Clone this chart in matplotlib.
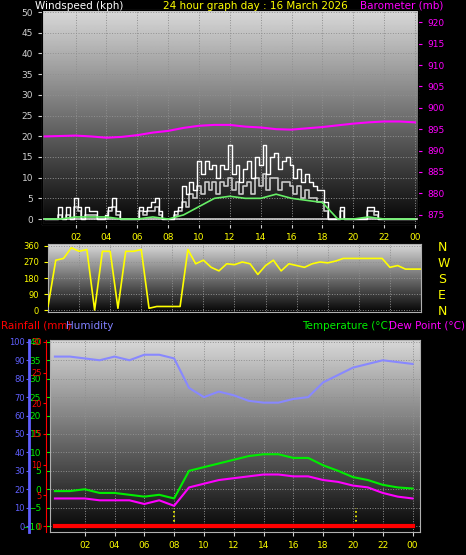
import numpy as np
from matplotlib import pyplot as plt

# ---- data ----
quarter_hours = np.arange(97) / 4
wind_gust = [0, 0, 0, 0, 3, 0, 3, 0, 5, 3, 0, 3, 2, 2, 0, 0, 1, 3, 5, 2, 0, 0, 0, 0,
             0, 3, 2, 3, 4, 5, 2, 0, 0, 0, 2, 3, 8, 6, 9, 7, 14, 11, 14, 12, 13, 10, 13, 12,
             18, 11, 13, 9, 12, 14, 10, 15, 13, 18, 11, 15, 16, 12, 14, 15, 13, 10, 12, 9,
             11, 9, 8, 7, 7, 4, 0, 0, 0, 3, 0, 0, 0, 0, 0, 0, 3, 3, 2, 0, 0, 0, 0, 0,
             0, 0, 0, 0, 0]
wind_avg = [0, 0, 0, 0, 1, 0, 1, 0, 3, 2, 0, 1, 1, 1, 0, 0, 0, 2, 3, 1, 0, 0, 0, 0,
            0, 2, 1, 2, 2, 3, 1, 0, 0, 0, 1, 2, 4, 3, 6, 5, 8, 6, 9, 7, 9, 6, 9, 8,
            10, 7, 9, 6, 8, 9, 6, 10, 8, 11, 7, 10, 10, 7, 9, 9, 8, 6, 8, 5,
            7, 5, 5, 4, 4, 2, 0, 0, 0, 2, 0, 0, 0, 0, 0, 0, 2, 2, 1, 0, 0, 0, 0, 0,
            0, 0, 0, 0, 0]
hours = np.arange(25)
wind_mean = [0, 0, 0.5, 0.5, 0.5, 0, 0, 0.5, 0, 1, 3, 5, 5.5, 5, 5, 6, 5, 4.5, 4, 0, 0, 0.5, 0, 0, 0]
barometer = [893.3, 893.4, 893.5, 893.3, 893.0, 893.2, 893.6, 894.2, 894.6, 895.3, 895.8, 896.0,
             896.0, 895.6, 895.4, 895.0, 894.9, 895.2, 895.5, 895.9, 896.3, 896.6, 896.8, 896.8, 896.6]

half_hours = np.arange(49) / 2
wind_dir = [20, 280, 290, 350, 330, 340, 0, 330, 330, 10, 330, 330, 340, 10, 20, 20,
            20, 20, 340, 260, 280, 240, 220, 260, 255, 270, 260, 200, 250, 280, 220, 260,
            250, 240, 260, 270, 265, 275, 290, 290, 290, 290, 290, 290, 240, 250, 230, 230, 230]

temperature = [-0.5, -0.5, 0, -1, -1, -1.5, -2, -1.5, -2.5, 5, 6, 7, 8, 9, 9.5, 9.5,
               8.5, 8.5, 6.5, 5, 3.3, 2.5, 1.2, 0.5, 0.2]
dew_point = [-2.5, -2.5, -2.5, -3, -3, -3, -4, -3, -4.5, 0.5, 1.5, 2.5, 3, 3.5, 4, 4,
             3.5, 3.5, 2.5, 2, 1, 0.5, -1, -2, -2.5]
humidity = [92, 92, 91, 90, 92, 90, 93, 93, 91, 75, 70, 73, 71, 68, 67, 67,
            69, 70, 78, 82, 86, 88, 90, 89, 88]
rainfall = [0] * 25
sun_times = [8.0, 20.2]

xticks = list(range(2, 25, 2))
xlabels = ["%02d" % (h % 24) for h in xticks]

W, H = 466, 555
fig = plt.figure(figsize=(W / 100, H / 100), dpi=100, facecolor="black")
grad = np.linspace(0.85, 0.02, 256).reshape(-1, 1)


def panel(x0, y0, x1, y1):
    ax = fig.add_axes([x0 / W, 1 - y1 / H, (x1 - x0) / W, (y1 - y0) / H])
    ax.imshow(grad, cmap="gray", vmin=0, vmax=1, aspect="auto", extent=[0, 1, 0, 1],
              transform=ax.transAxes, zorder=0)
    for s in ax.spines.values():
        s.set_color("#b0b0b0")
    ax.grid(True, color="#909090", linestyle=":", linewidth=0.7)
    ax.tick_params(labelsize=6.5, length=3, colors="#d0d0d0")
    return ax


# ---- wind / barometer ----
ax1 = panel(42, 10, 418, 224)
ax1.plot(quarter_hours, wind_avg, color="#c8c8c8", lw=1.2, drawstyle="steps-mid", zorder=2)
ax1.plot(quarter_hours, wind_gust, color="white", lw=1, drawstyle="steps-mid", zorder=3)
ax1.plot(hours, wind_mean, color="#66ee66", lw=1.2, zorder=4)
ax1.axhline(0, color="#d0d0d0", lw=1.2, zorder=2)
ax1.set_xlim(-0.18, 24.2)
ax1.set_ylim(-1.2, 50.5)
ax1.set_yticks(range(0, 51, 5))
ax1.set_yticks(range(0, 51, 1), minor=True)
ax1.tick_params(axis="y", colors="#d0d0d0", labelcolor="#d0d0d0")
ax1.set_xticks(xticks)
ax1.set_xticklabels(xlabels)
ax1.tick_params(axis="x", labelcolor="yellow", colors="#d0d0d0")
axb = ax1.twinx()
axb.plot(hours, barometer, color="#ff00ff", lw=1.5)
axb.set_ylim(872.8, 922.9)
axb.set_yticks(range(875, 921, 5))
axb.set_yticks(range(873, 923, 1), minor=True)
axb.tick_params(colors="#ff00ff", labelsize=6.5, length=3)
axb.set_xlim(ax1.get_xlim())

fig.text(35 / W, 1 - 6 / H, "Windspeed (kph)", color="white", fontsize=7.5, va="center")
fig.text(255 / W, 1 - 6 / H, "24 hour graph day : 16 March 2026", color="yellow",
         fontsize=7.5, va="center", ha="center")
fig.text(443 / W, 1 - 6 / H, "Barometer (mb)", color="#ff00ff", fontsize=7.5,
         va="center", ha="right")

# ---- wind direction ----
ax2 = panel(48, 244, 421, 312)
ax2.plot(half_hours, wind_dir, color="#ffff00", lw=1.2, zorder=3)
ax2.set_xlim(0, 24)
ax2.set_ylim(-11, 371)
ax2.set_yticks([0, 90, 180, 270, 360])
ax2.tick_params(axis="y", labelcolor="yellow", colors="yellow", labelsize=6)
ax2.set_xticks(xticks)
ax2.tick_params(axis="x", labelbottom=False, length=0)
axd = ax2.twinx()
axd.set_ylim(ax2.get_ylim())
axd.set_yticks([0, 90, 180, 270, 360])
axd.set_yticklabels(["N", "E", "S", "W", "N"])
axd.tick_params(length=0, pad=12, labelcolor="yellow", labelsize=9)
for s in axd.spines.values():
    s.set_visible(False)

# ---- temperature / humidity / rain ----
fig.text(1 / W, 1 - 326 / H, "Rainfall (mm)", color="red", fontsize=7.5, va="center")
fig.text(66 / W, 1 - 326 / H, "Humidity", color="#8080ff", fontsize=7.5, va="center")
fig.text(392 / W, 1 - 326 / H, "Temperature (°C)", color="#00ee00", fontsize=7.5,
         va="center", ha="right")
fig.text(465 / W, 1 - 326 / H, "Dew Point (°C)", color="#ff00ff", fontsize=7.5,
         va="center", ha="right")

ax3 = panel(50, 340, 420, 532)
ax3.set_xlim(-0.33, 24.5)
ax3.set_ylim(-11.6, 40.5)
ax3.yaxis.tick_right()
ax3.set_yticks(range(-10, 41, 5))
ax3.set_yticks(range(-10, 41, 1), minor=True)
ax3.tick_params(axis="y", colors="#00ee00", labelcolor="#00ee00")
ax3.set_xticks(xticks)
ax3.set_xticklabels(xlabels)
ax3.tick_params(axis="x", labelcolor="yellow")
ax3.plot(hours, temperature, color="#00ee00", lw=1.5, zorder=4)
ax3.plot(hours, dew_point, color="#ff00ff", lw=1.5, zorder=4)
for t in sun_times:
    ax3.plot([t, t], [-10, -5], color="yellow", ls=":", lw=1.2, zorder=3)

axh = ax3.twinx()
axh.spines["left"].set_visible(True)
axh.spines["left"].set_position(("axes", -21 / 370))
axh.spines["left"].set_color("#6060ff")
axh.spines["left"].set_linewidth(2)
axh.yaxis.set_ticks_position("left")
axh.plot(hours, humidity, color="#8888ff", lw=1.5, zorder=3)
axh.set_ylim(-3.2, 101)
axh.set_yticks(range(0, 101, 10))
axh.set_yticks(range(0, 101, 2), minor=True)
axh.tick_params(colors="#6060ff", labelsize=6, length=2, pad=1)
axh.tick_params(which="minor", length=1.5)

axr = ax3.twinx()
axr.spines["left"].set_visible(True)
axr.spines["left"].set_position(("axes", -4 / 370))
axr.spines["left"].set_color("red")
axr.yaxis.set_ticks_position("left")
axr.plot(hours, rainfall, color="red", lw=3, zorder=5)
axr.set_ylim(-0.96, 30.3)
axr.set_yticks(range(0, 31, 5))
axr.set_yticks(range(0, 31, 1), minor=True)
axr.tick_params(colors="red", labelsize=6, length=2, pad=1)
axr.tick_params(which="minor", length=1.5)
for a in (axh, axr):
    a.set_xlim(ax3.get_xlim())
    for side in ("right", "top", "bottom"):
        a.spines[side].set_visible(False)

fig.savefig("out.png", facecolor="black")
